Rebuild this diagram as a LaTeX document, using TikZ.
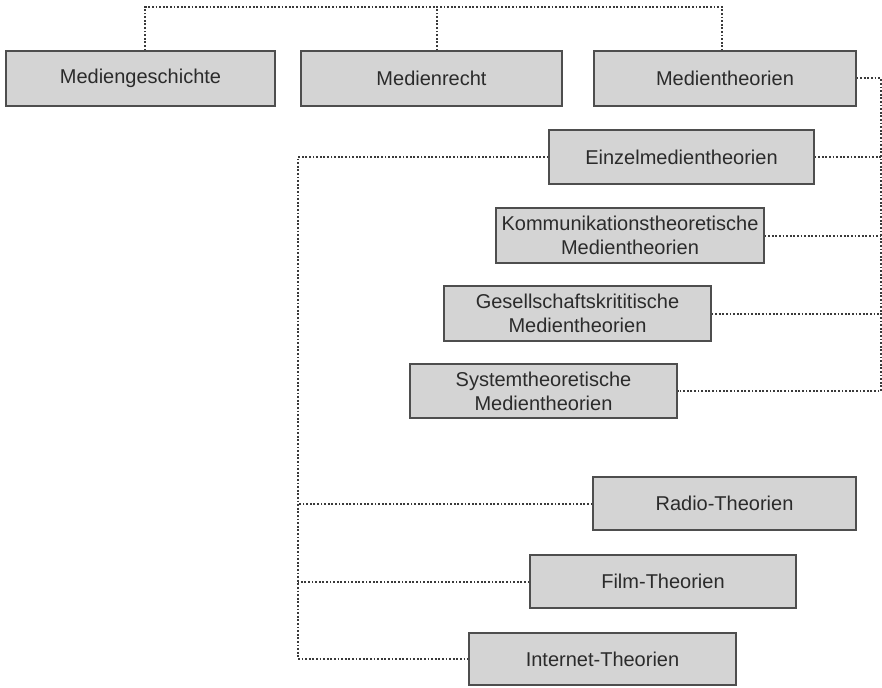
\documentclass[tikz,border=0pt]{standalone}
\usepackage{fontspec}
\setmainfont{Liberation Sans}
\definecolor{boxfill}{HTML}{D4D4D4}
\definecolor{boxline}{HTML}{4E4E4E}
\definecolor{ink}{HTML}{2B2B2B}
\definecolor{dotline}{HTML}{3A3A3A}
\tikzset{
  topic/.style={draw=boxline, line width=1.3pt, fill=boxfill, text=ink,
    rectangle, inner sep=0pt, align=center, minimum height=54pt,
    font=\fontsize{20}{24}\selectfont},
  link/.style={draw=dotline, line width=2pt, dash pattern=on 1.8pt off 1.8pt}
}
\begin{document}
\begin{tikzpicture}[x=1pt,y=-1pt]
  \useasboundingbox[fill=white] (0,0) rectangle (882,687);

  % top row
  \node[topic, minimum width=269pt, minimum height=55pt] (mg) at (140.5,78.5) {Mediengeschichte};
  \node[topic, minimum width=261pt, minimum height=55pt] (mr) at (431.5,78.5) {Medienrecht};
  \node[topic, minimum width=262pt, minimum height=55pt] (mt) at (725,78.5) {Medientheorien};

  % theory families
  \node[topic, minimum width=265pt] (ez) at (681.5,157) {Einzelmedientheorien};
  \node[topic, minimum width=268pt, minimum height=55pt] (kt) at (630,235.5) {Kommunikationstheoretische\\Medientheorien};
  \node[topic, minimum width=267pt, minimum height=55pt] (gk) at (577.5,313.5) {Gesellschaftskrititische\\Medientheorien};
  \node[topic, minimum width=267pt] (st) at (543.5,391) {Systemtheoretische\\Medientheorien};

  % single-medium theories
  \node[topic, minimum width=263pt, minimum height=53pt] (rt) at (724.5,503.5) {Radio-Theorien};
  \node[topic, minimum width=266pt, minimum height=53pt] (ft) at (663,581.5) {Film-Theorien};
  \node[topic, minimum width=267pt, minimum height=52pt] (it) at (602.5,659) {Internet-Theorien};

  % bus coordinates
  \coordinate (j1) at (145,7);
  \coordinate (j2) at (437,7);
  \coordinate (j3) at (722,7);
  \coordinate (rb) at (881,0);
  \coordinate (lb) at (298,0);

  % top bracket
  \draw[link] (mg.north -| j1) -- (j1) -- (j3) -- (mt.north -| j3);
  \draw[link] (mr.north -| j2) -- (j2);

  % right bracket of Medientheorien
  \draw[link] (mt.east) -- (mt.east -| rb) -- (st.east -| rb) -- (st.east);
  \draw[link] (ez.east) -- (ez.east -| rb);
  \draw[link] (kt.east) -- (kt.east -| rb);
  \draw[link] (gk.east) -- (gk.east -| rb);

  % left bracket of Einzelmedientheorien
  \draw[link] (ez.west) -- (ez.west -| lb) -- (it.west -| lb) -- (it.west);
  \draw[link] (rt.west) -- (rt.west -| lb);
  \draw[link] (ft.west) -- (ft.west -| lb);
\end{tikzpicture}
\end{document}
